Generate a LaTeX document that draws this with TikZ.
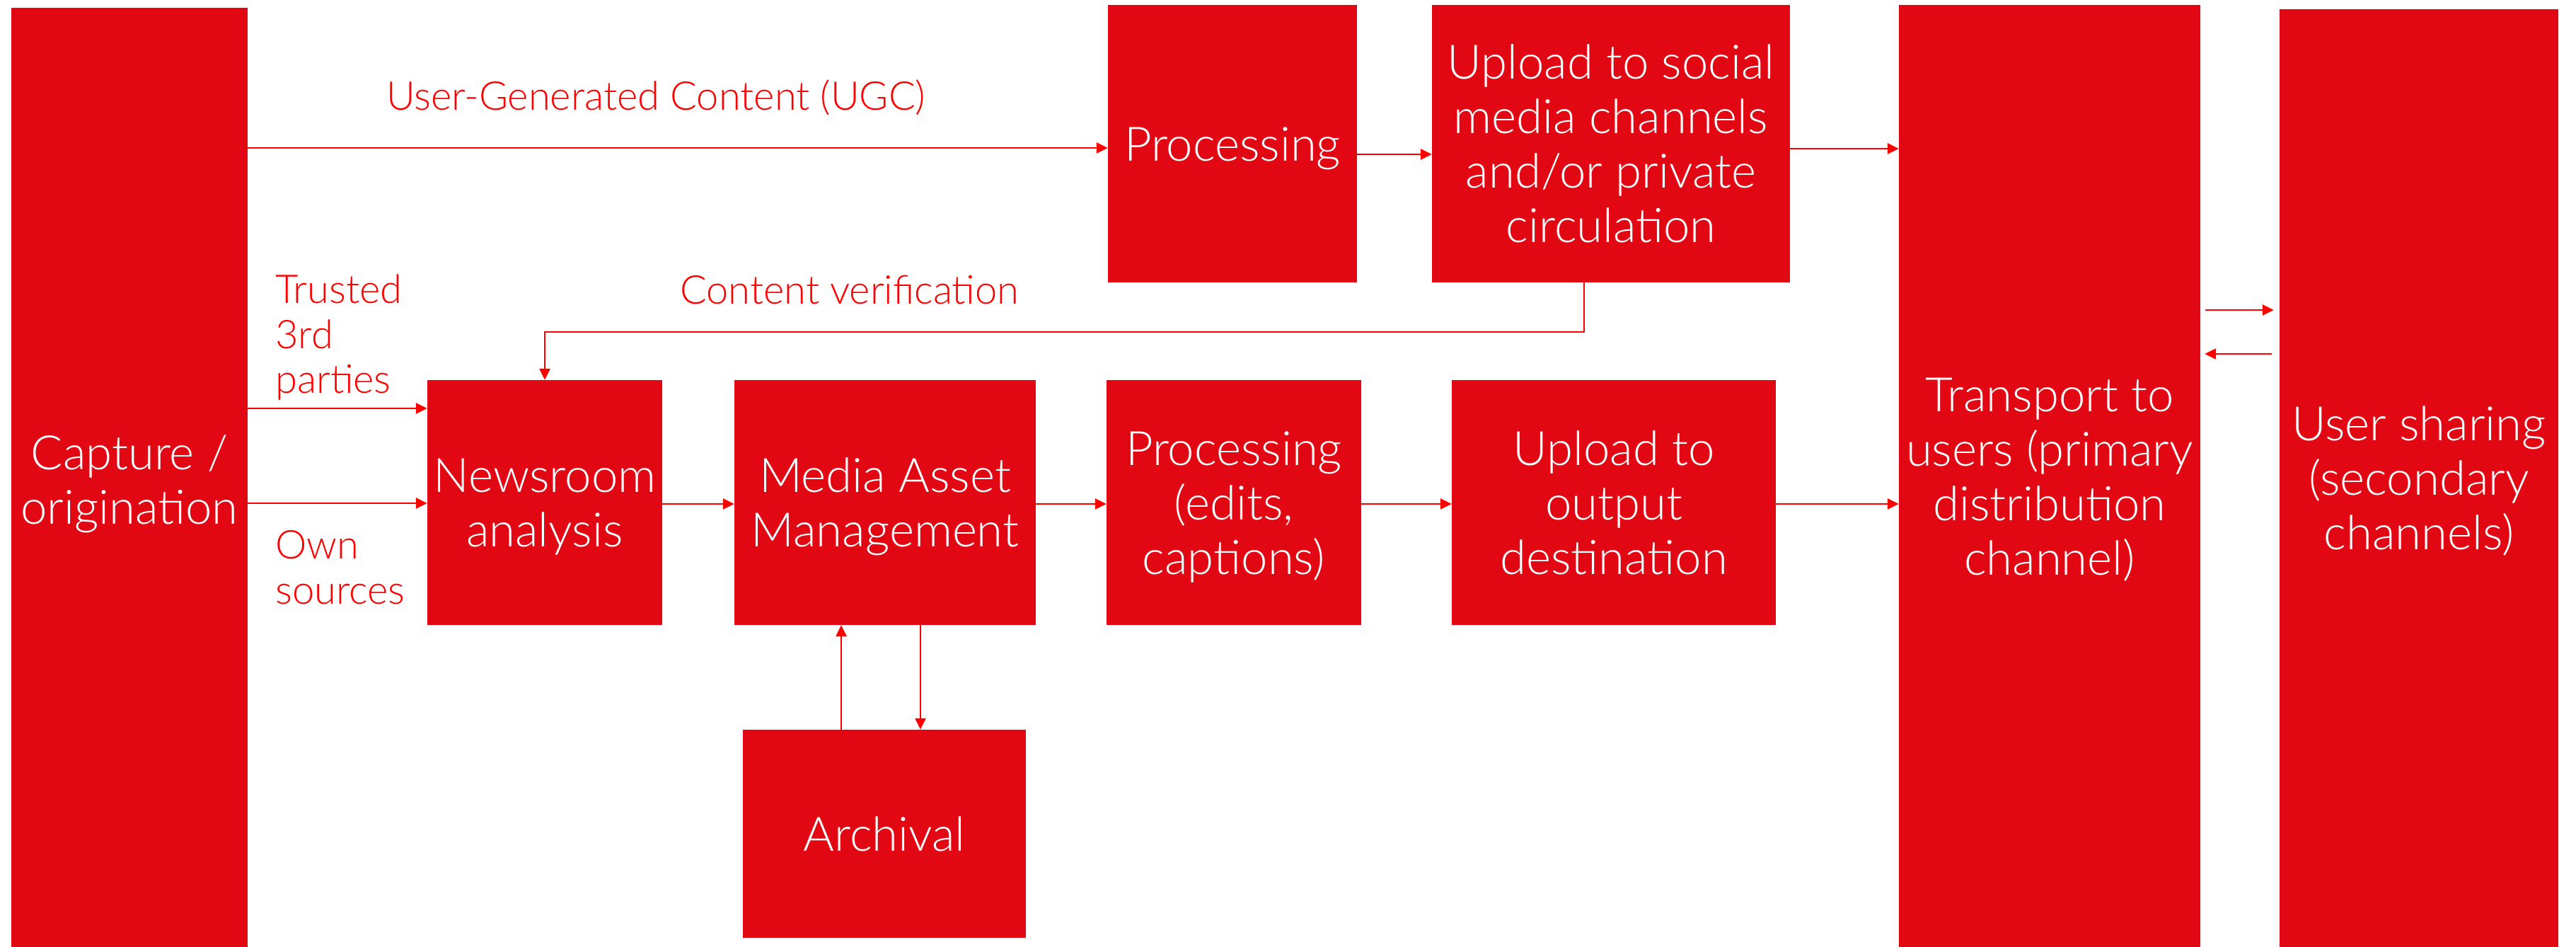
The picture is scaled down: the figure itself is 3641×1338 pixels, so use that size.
\documentclass[tikz,border=0pt]{standalone}
\usepackage{fontspec}
\IfFontExistsTF{Lato Light}{\setmainfont{Lato Light}}{\setmainfont{Lato}}
\usetikzlibrary{arrows.meta,calc}
\definecolor{boxred}{RGB}{225,7,19}
\definecolor{linered}{RGB}{255,0,0}
\newcommand{\ls}{\rule[-14.5pt]{0pt}{77pt}}
\tikzset{
 box/.style={fill=boxred, draw=none, inner sep=0pt},
 boxtxt/.style={text=white, align=center, inner sep=0pt, font=\fontsize{67}{77}\selectfont},
 lbl/.style={text=linered, anchor=base west, inner sep=0pt, font=\fontsize{56}{64}\selectfont},
 arr/.style={draw=linered, line width=2.5pt, -{Triangle[length=16pt,width=15pt]}},
}
\begin{document}
\begin{tikzpicture}[x=1pt,y=-1pt]
\useasboundingbox (0,0) rectangle (3641,1338);
% boxes
\node[box, minimum width=334pt, minimum height=1327pt, label={[boxtxt,yshift=-3pt]center:{\ls Capture /\\\ls origination}}] (cap) at (183,674.5) {};
\node[box, minimum width=352pt, minimum height=392pt, label={[boxtxt]center:{\ls Processing}}] (proc1) at (1742,203) {};
\node[box, minimum width=506pt, minimum height=392pt, label={[boxtxt]center:{\ls Upload to social\\\ls media channels\\\ls and/or private\\\ls circulation}}] (upsoc) at (2277,203) {};
\node[box, minimum width=426pt, minimum height=1331pt, label={[boxtxt]center:{\ls Transport to\\\ls users (primary\\\ls distribution\\\ls channel)}}] (trans) at (2897,672.5) {};
\node[box, minimum width=394pt, minimum height=1325pt, label={[boxtxt]center:{\ls User sharing\\\ls (secondary\\\ls channels)}}] (user) at (3419,675.5) {};
\node[box, minimum width=332pt, minimum height=346pt, label={[boxtxt]center:{\ls Newsroom\\\ls analysis}}] (news) at (770,710) {};
\node[box, minimum width=426pt, minimum height=346pt, label={[boxtxt]center:{\ls Media Asset\\\ls Management}}] (mam) at (1251,710) {};
\node[box, minimum width=360pt, minimum height=346pt, label={[boxtxt]center:{\ls Processing\\\ls (edits,\\\ls captions)}}] (proc2) at (1744,710) {};
\node[box, minimum width=458pt, minimum height=346pt, label={[boxtxt]center:{\ls Upload to\\\ls output\\\ls destination}}] (upout) at (2281,710) {};
\node[box, minimum width=400pt, minimum height=294pt, label={[boxtxt]center:{\ls Archival}}] (arch) at (1250,1178) {};
% labels
\node[lbl] (ugc) at (546,155) {User-Generated Content (UGC)};
\node[lbl] (cv) at (961,429) {Content verification};
\node[lbl] (t1) at (389,428) {Trusted};
\node[lbl] (t2) at (389,492) {3rd};
\node[lbl] (t3) at (389,555) {parties};
\node[lbl] (o1) at (389,789) {Own};
\node[lbl] (o2) at (389,853) {sources};
% helper coordinates
\coordinate (yA) at (0,209);
\coordinate (yB) at (0,218);
\coordinate (yC) at (0,210);
\coordinate (yT) at (0,577);
\coordinate (yO) at (0,711);
\coordinate (yM) at (0,712);
\coordinate (vx) at (2239,0);
\coordinate (vy) at (0,469);
\coordinate (xU) at (1189,0);
\coordinate (xD) at (1301,0);
\coordinate (yR) at (0,438);
\coordinate (yL) at (0,500);
% connectors
\draw[arr] (cap.east |- yA) -- (proc1.west |- yA);
\draw[arr] (proc1.east |- yB) -- (upsoc.west |- yB);
\draw[arr] (upsoc.east |- yC) -- (trans.west |- yC);
\draw[arr] (upsoc.south -| vx) |- (news.north |- vy) -- (news.north);
\draw[arr] (cap.east |- yT) -- (news.west |- yT);
\draw[arr] (cap.east |- yO) -- (news.west |- yO);
\draw[arr] (news.east |- yM) -- (mam.west |- yM);
\draw[arr] (mam.east |- yM) -- (proc2.west |- yM);
\draw[arr] (proc2.east |- yM) -- (upout.west |- yM);
\draw[arr] (upout.east |- yM) -- (trans.west |- yM);
\draw[arr] (arch.north -| xU) -- (mam.south -| xU);
\draw[arr] (mam.south -| xD) -- (arch.north -| xD);
\draw[arr] ($(trans.east |- yR)+(7,0)$) -- ($(user.west |- yR)+(-8,0)$);
\draw[arr] ($(user.west |- yL)+(-11,0)$) -- ($(trans.east |- yL)+(6,0)$);
\end{tikzpicture}
\end{document}
